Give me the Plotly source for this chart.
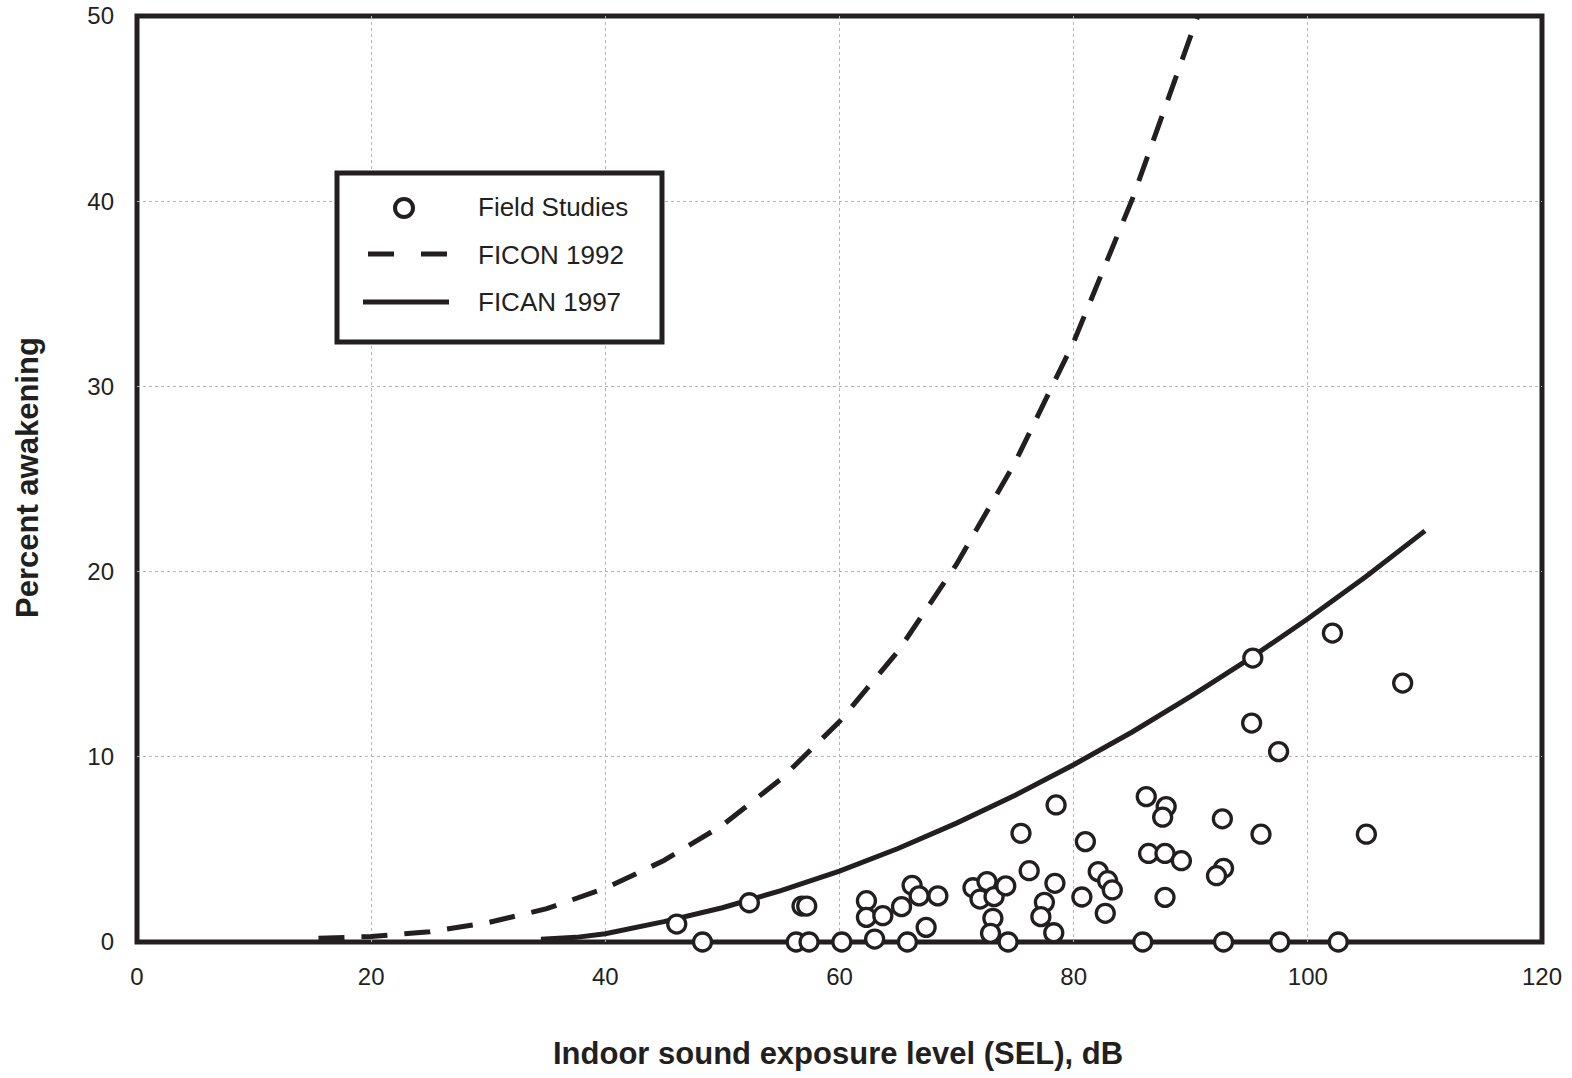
import plotly.graph_objects as go

# ---- Data ----
field_sel = [46.1, 52.3, 56.8, 57.2, 62.3, 62.3, 63.7, 65.3, 66.2, 66.8,
             68.4, 67.4, 63.0, 71.4, 72.6, 72.0, 73.2, 74.2, 73.1, 72.9,
             75.5, 76.2, 78.5, 78.4, 77.5, 77.2, 78.3, 81.0, 80.7, 95.3,
             102.1, 108.1, 95.2, 97.5, 86.2, 87.9, 87.6, 92.7, 96.0, 105.0,
             86.4, 87.8, 89.2, 92.8, 92.2, 82.1, 82.9, 83.3, 82.7, 87.8,
             48.3, 56.3, 57.4, 60.2, 65.8, 74.4, 85.9, 92.8, 97.6, 102.6]
field_pct = [0.97, 2.12, 1.94, 1.94, 2.23, 1.33, 1.42, 1.91, 3.06, 2.49,
             2.49, 0.79, 0.16, 2.93, 3.26, 2.32, 2.45, 3.03, 1.28, 0.47,
             5.87, 3.85, 7.40, 3.17, 2.14, 1.37, 0.50, 5.42, 2.43, 15.33,
             16.68, 13.98, 11.82, 10.28, 7.85, 7.31, 6.74, 6.65, 5.82, 5.82,
             4.78, 4.78, 4.39, 3.98, 3.58, 3.80, 3.31, 2.81, 1.55, 2.41,
             0, 0, 0, 0, 0, 0, 0, 0, 0, 0]

ficon_sel = [15.5, 20, 25, 30, 35, 40, 45, 50, 55, 60, 65, 70, 75, 80, 85, 90.6]
ficon_pct = [0.2, 0.3, 0.55, 1.05, 1.8, 2.9, 4.4, 6.3, 8.8, 11.9, 15.7, 20.4, 25.9, 32.4, 40.1, 50.0]

fican_sel = [34.5, 37.5, 40, 45, 50, 55, 60, 65, 70, 75, 80, 85, 90, 95, 100, 105, 110]
fican_pct = [0.15, 0.25, 0.45, 1.1, 1.85, 2.77, 3.83, 5.05, 6.42, 7.92, 9.57, 11.34, 13.26, 15.29, 17.45, 19.75, 22.2]

x_ticks = [0, 20, 40, 60, 80, 100, 120]
y_ticks = [0, 10, 20, 30, 40, 50]

legend_labels = ["Field Studies", "FICON 1992", "FICAN 1997"]

INK = "#231f20"
FONT = "Liberation Sans, Arial, Helvetica, sans-serif"

fig = go.Figure()
fig.add_trace(go.Scatter(x=ficon_sel, y=ficon_pct, mode="lines", name=legend_labels[1],
                         line=dict(color=INK, width=5, dash="26px,17px")))
fig.add_trace(go.Scatter(x=fican_sel, y=fican_pct, mode="lines", name=legend_labels[2],
                         line=dict(color=INK, width=5)))
fig.add_trace(go.Scatter(x=field_sel, y=field_pct, mode="markers", name=legend_labels[0],
                         marker=dict(symbol="circle", size=18, color="white",
                                     line=dict(color=INK, width=3.3)),
                         cliponaxis=False))

# the page body margin is removed (post_script), so the figure fills the window
OFF = 0
W, H = 1572, 1078
ML, MR, MT, MB = 137, 30, 16, 136
PW, PH = W - ML - MR, H - MT - MB


def px_x(p):
    return (p - OFF - ML) / PW


def px_y(p):
    return (H - MB - (p - OFF)) / PH


shapes = [
    # frame
    dict(type="rect", xref="paper", yref="paper", x0=0, x1=1, y0=0, y1=1,
         line=dict(color=INK, width=5), layer="between"),
    # legend box
    dict(type="rect", xref="paper", yref="paper",
         x0=px_x(337), x1=px_x(662), y0=px_y(342), y1=px_y(173),
         line=dict(color=INK, width=5), fillcolor="white", layer="above"),
    # legend circle
    dict(type="circle", xref="paper", yref="paper", xsizemode="pixel", ysizemode="pixel",
         xanchor=px_x(404), yanchor=px_y(208), x0=-9, x1=9, y0=-9, y1=9,
         line=dict(color=INK, width=4), fillcolor="white", layer="above"),
    # legend dashed
    dict(type="line", xref="paper", yref="paper", x0=px_x(368), x1=px_x(447),
         y0=px_y(254), y1=px_y(254), line=dict(color=INK, width=5, dash="26px,27px"),
         layer="above"),
    # legend solid
    dict(type="line", xref="paper", yref="paper", x0=px_x(363), x1=px_x(449),
         y0=px_y(302), y1=px_y(302), line=dict(color=INK, width=5), layer="above"),
]

annotations = [
    dict(text=legend_labels[0], x=px_x(476), y=px_y(207), xref="paper", yref="paper",
         xanchor="left", yanchor="middle", showarrow=False,
         font=dict(family=FONT, size=26, color=INK)),
    dict(text=legend_labels[1], x=px_x(476), y=px_y(255), xref="paper", yref="paper",
         xanchor="left", yanchor="middle", showarrow=False,
         font=dict(family=FONT, size=26, color=INK)),
    dict(text=legend_labels[2], x=px_x(476), y=px_y(302), xref="paper", yref="paper",
         xanchor="left", yanchor="middle", showarrow=False,
         font=dict(family=FONT, size=26, color=INK)),
    dict(text="<b>Indoor sound exposure level (SEL), dB</b>", x=px_x(838), y=px_y(1053),
         xref="paper", yref="paper", xanchor="center", yanchor="middle", showarrow=False,
         font=dict(family=FONT, size=31, color=INK)),
    dict(text="<b>Percent awakening</b>", x=px_x(27), y=px_y(478), textangle=-90,
         xref="paper", yref="paper", xanchor="center", yanchor="middle", showarrow=False,
         font=dict(family=FONT, size=31, color=INK)),
]

fig.update_layout(
    width=W, height=H,
    margin=dict(l=ML, r=MR, t=MT, b=MB, autoexpand=False),
    paper_bgcolor="white", plot_bgcolor="white",
    showlegend=False,
    shapes=shapes,
    annotations=annotations,
    font=dict(family=FONT, color=INK),
    hovermode=False,
)
fig.update_xaxes(range=[0, 120], tickvals=x_ticks, ticktext=[str(v) for v in x_ticks],
                 showgrid=True, gridcolor="#b4b4b4", gridwidth=1, griddash="dot",
                 zeroline=False, showline=False, ticks="", ticklabelstandoff=18,
                 ticklabeloverflow="allow",
                 tickfont=dict(family=FONT, size=24, color=INK), automargin=False)
fig.update_yaxes(range=[0, 50], tickvals=y_ticks, ticktext=[str(v) for v in y_ticks],
                 showgrid=True, gridcolor="#b4b4b4", gridwidth=1, griddash="dot",
                 zeroline=False, showline=False, ticks="", ticklabelstandoff=22,
                 ticklabeloverflow="allow",
                 tickfont=dict(family=FONT, size=24, color=INK), automargin=False)

fig.write_html("out.html", config={"displayModeBar": False},
               post_script="document.body.style.margin='0';document.body.style.overflow='hidden';")
